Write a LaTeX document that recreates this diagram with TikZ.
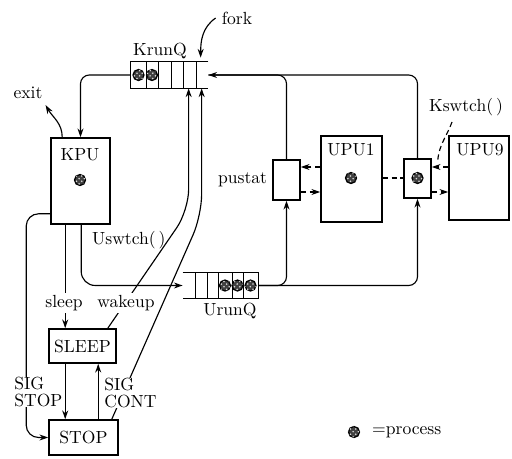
\documentclass[tikz,border=0pt]{standalone}
\usepackage{tikz}
\usetikzlibrary{arrows.meta, positioning, calc, patterns}

\begin{document}
\begin{tikzpicture}[
    x=0.02cm, y=0.02cm,
    >={Stealth[length=5pt, width=3.4pt]},
    unit/.style={draw, line width=0.9pt, inner sep=0pt},
    qframe/.style={inner sep=0pt, minimum height=26*\pxl},
    proc/.style={circle, draw, line width=0.7pt, fill=black!75, inner sep=0pt, minimum size=11*\pxl,
        postaction={pattern=crosshatch dots, pattern color=white!85!black}},
    lbl/.style={fill=white, inner sep=1pt},
    twoline/.style={fill=white, inner sep=0pt, align=left, anchor=west, font=\fontsize{10}{9.5}\selectfont},
    link/.style={line width=0.65pt}
]

\def\pxl{0.02cm}

\useasboundingbox (0,0) rectangle (512,458);

% Boxes
\node[unit, minimum width=59*\pxl, minimum height=86*\pxl] (kpu) at (80.5,277) {};
\node[unit, minimum width=61*\pxl, minimum height=86*\pxl] (upu1) at (351.5,279) {};
\node[unit, minimum width=60*\pxl, minimum height=84*\pxl] (upu9) at (479,280) {};
\node[unit, minimum width=27*\pxl, minimum height=40*\pxl] (ps) at (286.5,278) {};
\node[unit, minimum width=27*\pxl, minimum height=39*\pxl] (ks) at (417.5,279.5) {};
\node[unit, minimum width=67*\pxl, minimum height=34*\pxl] (sleep) at (82.5,112) {SLEEP};
\node[unit, minimum width=69*\pxl, minimum height=35*\pxl] (stop) at (83.5,20.5) {STOP};

% Queues
\node[qframe, minimum width=77*\pxl] (krunq) at (169.5,383) {};
\draw[line width=0.9pt] (krunq.north east) -- (krunq.north west) -- (krunq.south west) -- (krunq.south east);
\draw (146,396) -- (146,370);
\draw (158,396) -- (158,370);
\draw (171,396) -- (171,370);
\draw (183,396) -- (183,370);
\draw (196,396) -- (196,370);

\node[qframe, minimum width=75*\pxl, minimum height=25*\pxl] (urunq) at (220.5,172.5) {};
\draw[line width=0.9pt] (urunq.north west) -- (urunq.north east) -- (urunq.south east) -- (urunq.south west);
\draw (195,185) -- (195,160);
\draw (207,185) -- (207,160);
\draw (218,185) -- (218,160);
\draw (232,185) -- (232,160);
\draw (243,185) -- (243,160);

% Processes
\node[proc] (kq1) at (138.5,383) {};
\node[proc] (kq2) at (152,383) {};
\node[proc] (uq1) at (225,172.5) {};
\node[proc] (uq2) at (237.5,172.5) {};
\node[proc] (uq3) at (250.5,172.5) {};
\node[proc] (kpup) at (80,278) {};
\node[proc] (upu1p) at (351,280) {};
\node[proc] (ksp) at (417.5,280) {};
\node[proc] (key) at (354,26) {};

% Texts
\node (kputxt) at (80,303) {KPU};
\node (upu1txt) at (351,308) {UPU1};
\node (upu9txt) at (480,308) {UPU9};
\node (krunqtxt) at (160,407) {KrunQ};
\node (urunqtxt) at (230,147) {UrunQ};
\node (fork) at (237,440) {fork};
\node (exit) at (28,365) {exit};
\node (pustat) at (242.5,278) {pustat};
\node[anchor=west] (uswtch) at (86,218) {Uswtch(\,)};
\node (kswtch) at (466,351) {Kswtch(\,)};
\node[anchor=west] (legend) at (366,26) {=process};

% Helper points
\coordinate (slp) at ($(kpu.south west)+(15,0)$);
\coordinate (usw) at ($(kpu.south west)+(31,0)$);
\coordinate (sgs) at ($(kpu.south west)+(0,11)$);
\coordinate (wkp) at ($(sleep.north east)+(-9,0)$);
\coordinate (cnt) at ($(stop.north east)+(-7,0)$);
\coordinate (cntb) at ($(stop.north west)+(50,0)$);
\coordinate (kin1) at ($(krunq.south west)+(58,0)$);
\coordinate (kin2) at ($(krunq.south west)+(71,0)$);
\coordinate (forkin) at ($(krunq.north west)+(70,4)$);
\coordinate (exitout) at ($(kpu.north west)+(12,0)$);
\coordinate (rowa) at (0,291);
\coordinate (rowb) at (0,266);
\coordinate (rowm) at (0,280);

% KrunQ and KPU
\draw[link, ->, rounded corners=5pt] (krunq.west) -| (kpu.north);
\draw[link, ->] (exitout) to[out=90, in=-60] ($(exit.south east)+(-3,0)$);
\draw[link, ->] (fork.west) to[out=215, in=90] (forkin);

% Back to KrunQ
\draw[link, rounded corners=5pt] (ps.north) |- (krunq.east);
\draw[link, ->, rounded corners=5pt] (ks.north) |- (krunq.east);

% UrunQ out
\draw[link, ->, rounded corners=5pt] (urunq.east) -| (ps.south);
\draw[link, ->, rounded corners=5pt] (urunq.east) -| (ks.south);
\draw[link, ->, rounded corners=8pt] (usw) |- (urunq.west);

% Sleep and stop
\draw[link, ->] (slp) -- (slp |- sleep.north);
\draw[link, ->] (sleep.south -| slp) -- (stop.north -| slp);
\draw[link, ->] (cntb) -- (cntb |- sleep.south);
\draw[link, ->, rounded corners=7pt] (sgs) -| ($(stop.west)+(-22,0)$) -- (stop.west);
\draw[link, ->, rounded corners=12pt] (wkp) -- ($(kin1)+(0,-122)$) -- (kin1);
\draw[link, ->, rounded corners=12pt] (cnt) -- ($(kin2)+(0,-127)$) -- (kin2);

% Dashed exchange
\draw[link, densely dashed, ->] (upu1.west |- rowa) -- (ps.east |- rowa);
\draw[link, densely dashed, ->] (ps.east |- rowb) -- (upu1.west |- rowb);
\draw[link, densely dashed] (upu1.east |- rowm) -- (ks.west |- rowm);
\draw[link, densely dashed, ->] (upu9.west |- rowa) -- (ks.east |- rowa);
\draw[link, densely dashed, ->] (ks.east |- rowb) -- (upu9.west |- rowb);
\draw[link, densely dashed] ($(kswtch.south)+(-14,0)$) to[out=250, in=85] ($(ks.north east)+(6,-2)$);

% Labels on lines
\node[lbl] (sleeplbl) at (64,155) {sleep};
\node[lbl] (wakelbl) at (126,155) {wakeup};
\node[twoline] (sigstop) at (14,66) {SIG\\STOP};
\node[twoline] (sigcont) at (104,65) {SIG\\CONT};

\end{tikzpicture}
\end{document}
